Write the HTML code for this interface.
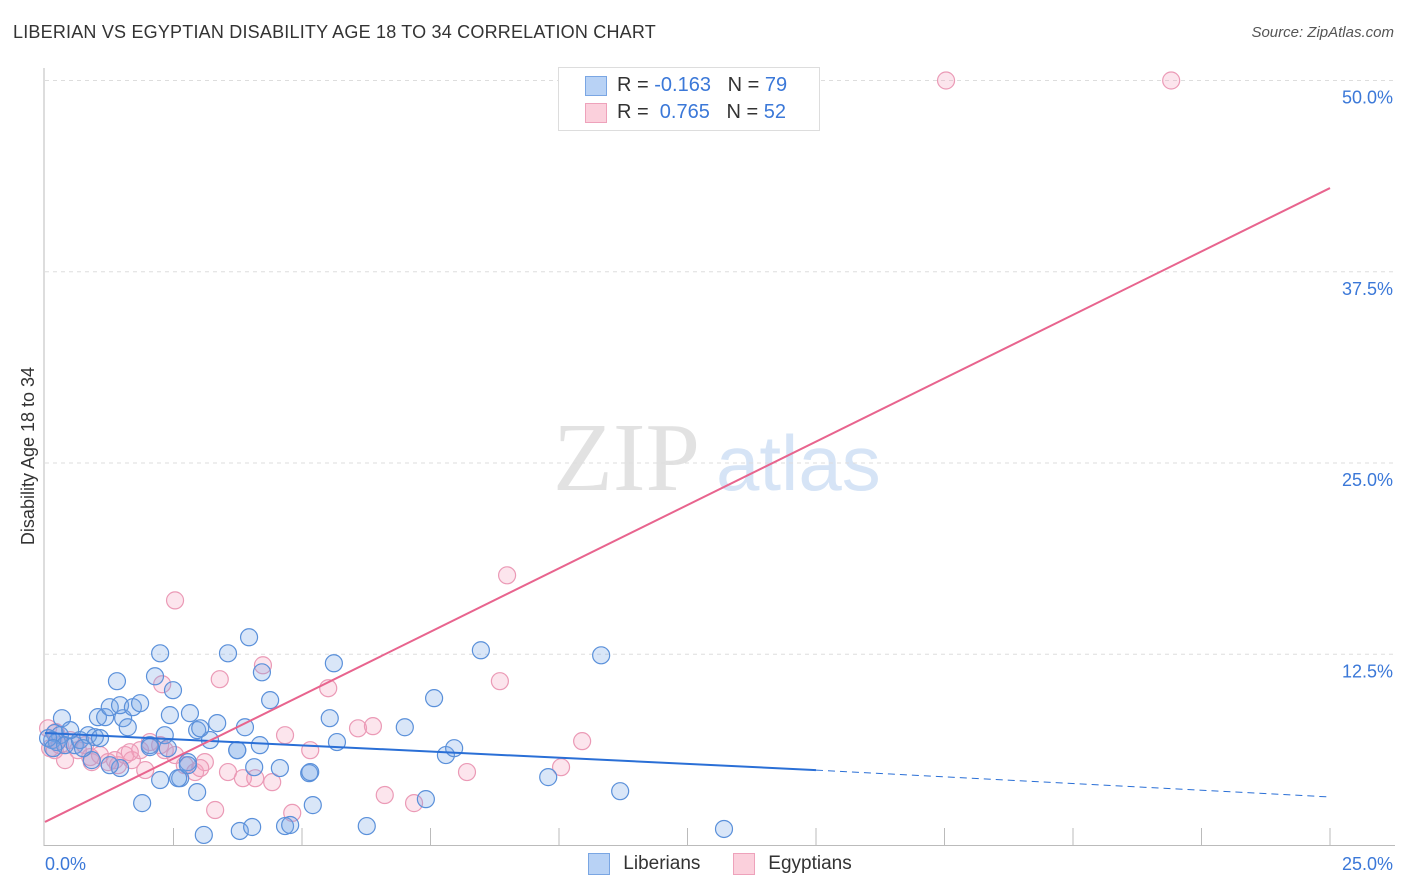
<!DOCTYPE html>
<html><head><meta charset="utf-8"><style>
body{margin:0;background:#fff;font-family:"Liberation Sans",sans-serif;}
#wrap{position:relative;width:1406px;height:892px;overflow:hidden;}
.t{position:absolute;white-space:nowrap;}
</style></head><body>
<div id="wrap">
<div class="t" style="left:13px;top:22px;font-size:18px;color:#333;letter-spacing:0.2px;">LIBERIAN VS EGYPTIAN DISABILITY AGE 18 TO 34 CORRELATION CHART</div>
<div class="t" style="right:12px;top:24px;font-size:15px;color:#555;font-style:italic;">Source: ZipAtlas.com</div>
<svg id="svg" width="1406" height="892" style="position:absolute;left:0;top:0"></svg>
</div>
<script>
const xTicks=[0,2.5,5,7.5,10,12.5,15,17.5,20,22.5,25];
const yTicks=[12.5,25,37.5,50];
const yTickLabels=["12.5%","25.0%","37.5%","50.0%"];
const libX=[0.33,0.19,0.29,0.14,0.23,0.39,0.58,0.68,0.84,0.97,1.07,1.03,1.17,1.26,1.40,1.52,1.46,1.61,1.71,1.85,2.04,2.14,2.24,2.43,2.33,2.49,2.39,2.63,2.82,2.96,2.78,2.96,3.09,3.21,3.35,3.56,3.74,3.89,3.97,4.22,4.18,4.38,4.07,4.57,4.67,4.77,5.14,5.21,5.54,5.62,5.68,6.26,7.00,7.41,7.57,7.80,7.96,8.48,9.79,10.82,11.19,13.21,3.79,4.03,2.24,1.89,0.91,1.46,1.26,0.49,0.06,0.16,0.74,2.59,3.02,5.16,3.74,2.04,2.78];
const libY=[8.32,7.35,7.21,6.89,6.76,6.56,6.56,6.89,7.21,7.08,7.02,8.39,8.39,9.04,10.74,8.32,9.17,7.73,9.04,9.30,6.56,11.06,12.56,8.52,7.21,10.15,6.36,4.40,8.65,7.54,5.45,3.49,0.69,6.89,8.00,12.56,6.23,7.73,13.61,11.32,6.56,9.50,5.12,5.06,1.27,1.34,4.73,2.64,8.32,11.91,6.76,1.27,7.73,3.03,9.63,5.91,6.36,12.76,4.47,12.43,3.55,1.08,0.95,1.21,4.28,2.77,5.58,5.06,5.25,7.54,7.02,6.36,6.36,4.40,7.66,4.80,6.23,6.43,5.25];
const egyX=[0.06,0.10,0.19,0.29,0.39,0.49,0.64,0.78,0.91,1.07,1.23,1.42,1.56,1.69,1.85,2.04,2.24,2.33,2.53,2.72,2.92,3.11,3.31,2.53,2.28,3.40,3.56,3.85,4.09,4.24,4.42,4.67,4.81,5.16,5.51,6.09,6.38,6.61,7.18,8.21,8.85,8.99,10.04,10.45,17.53,21.91,1.65,1.95,3.02,0.21,0.88,1.36];
const egyY=[7.66,6.36,6.23,6.56,5.58,6.89,6.23,6.56,5.45,5.91,5.45,5.25,5.91,5.58,6.23,6.76,6.56,6.23,5.91,5.25,4.80,5.45,2.32,16.02,10.54,10.87,4.80,4.40,4.40,11.78,4.14,7.21,2.13,6.23,10.28,7.66,7.80,3.30,2.77,4.80,10.74,17.66,5.12,6.82,50.0,50.0,6.10,4.93,5.06,7.41,5.78,5.58];
const libLine=[[0,7.35],[15,4.93],[25,3.17]];
const egyLine=[[0,1.54],[25,42.97]];

const NS="http://www.w3.org/2000/svg",svg=document.getElementById('svg');
const X0=45,X1=1330,Y0=845.5,PPY=15.3;
const sx=v=>X0+(X1-X0)*v/25, sy=v=>Y0-v*PPY;
function mk(t,a,p){const e=document.createElementNS(NS,t);for(const k in a)e.setAttribute(k,a[k]);(p||svg).appendChild(e);return e;}
let w=mk('text',{x:553,y:490,'font-family':'Liberation Serif,serif','font-size':98,fill:'#e2e2e2'});w.textContent='ZIP';


let w2=mk('text',{x:716,y:490,'font-family':'Liberation Sans,sans-serif','font-size':78,fill:'#d6e4f6'});w2.textContent='atlas';


yTicks.forEach((v,i)=>{
 const g=mk('line',{x1:X0,x2:1395,y1:sy(v),y2:sy(v),stroke:'#ddd','stroke-dasharray':'4,4'});
 
 
 const t=mk('text',{x:1393,y:sy(v)+23,'text-anchor':'end','font-size':18,fill:'#3b78d8','font-family':'Liberation Sans,sans-serif'});t.textContent=yTickLabels[i];
 
 
});
mk('line',{x1:44,x2:44,y1:68,y2:846,stroke:'#bbb'});
mk('line',{x1:44,x2:1395,y1:845.5,y2:845.5,stroke:'#bbb'});
xTicks.slice(1).forEach(v=>{const l=mk('line',{x1:sx(v),x2:sx(v),y1:828,y2:845,stroke:'#bbb'});
 
 });
let a=mk('text',{x:45,y:870,'font-size':18,fill:'#3b78d8'});a.textContent='0.0%';

let b=mk('text',{x:1393,y:870,'text-anchor':'end','font-size':18,fill:'#3b78d8'});b.textContent='25.0%';

let yt=mk('text',{x:34,y:456,'font-size':18,fill:'#333',transform:'rotate(-90 34 456)','text-anchor':'middle'});yt.textContent='Disability Age 18 to 34';


egyX.forEach((v,i)=>{const c=mk('circle',{cx:sx(v),cy:sy(egyY[i]),r:8.5,fill:'rgba(244,160,190,0.28)',stroke:'#eb9ab6','stroke-width':1.2});
 
 });
libX.forEach((v,i)=>{const c=mk('circle',{cx:sx(v),cy:sy(libY[i]),r:8.5,fill:'rgba(120,165,230,0.28)',stroke:'#5a90da','stroke-width':1.2});
 
 });
let l1=mk('line',{x1:sx(libLine[0][0]),y1:sy(libLine[0][1]),x2:sx(libLine[1][0]),y2:sy(libLine[1][1]),stroke:'#2a6fd6','stroke-width':2});

let l2=mk('line',{x1:sx(libLine[1][0]),y1:sy(libLine[1][1]),x2:sx(libLine[2][0]),y2:sy(libLine[2][1]),stroke:'#2a6fd6','stroke-width':1,'stroke-dasharray':'7,5'});

let l3=mk('line',{x1:sx(egyLine[0][0]),y1:sy(egyLine[0][1]),x2:sx(egyLine[1][0]),y2:sy(egyLine[1][1]),stroke:'#e8648e','stroke-width':2});

</script>
<div class="t" style="left:558px;top:67px;width:260px;height:62px;border:1px solid #ddd;background:#fff;font-size:20px;">
 <div style="position:absolute;left:26px;top:8px;width:20px;height:18px;background:#b8d2f5;border:1px solid #7aa6e3"></div>
 <div class="t" style="left:58px;top:6px;color:#333">R = <span style="color:#3b78d8">-0.163</span>&nbsp;&nbsp;&nbsp;N = <span style="color:#3b78d8">79</span></div>
 <div style="position:absolute;left:26px;top:35px;width:20px;height:18px;background:#fbd0dc;border:1px solid #eea2bb"></div>
 <div class="t" style="left:58px;top:33px;color:#333">R = &nbsp;<span style="color:#3b78d8">0.765</span>&nbsp;&nbsp;&nbsp;N = <span style="color:#3b78d8">52</span></div>
</div>
<div class="t" style="left:588px;top:853px;font-size:19px;color:#333">
 <span style="display:inline-block;width:20px;height:20px;background:#b8d2f5;border:1px solid #7aa6e3;vertical-align:middle"></span>
 <span style="margin-left:8px;vertical-align:middle">Liberians</span></div>
<div class="t" style="left:733px;top:853px;font-size:19px;color:#333">
 <span style="display:inline-block;width:20px;height:20px;background:#fbd0dc;border:1px solid #eea2bb;vertical-align:middle"></span>
 <span style="margin-left:8px;vertical-align:middle">Egyptians</span></div>
</body></html>
